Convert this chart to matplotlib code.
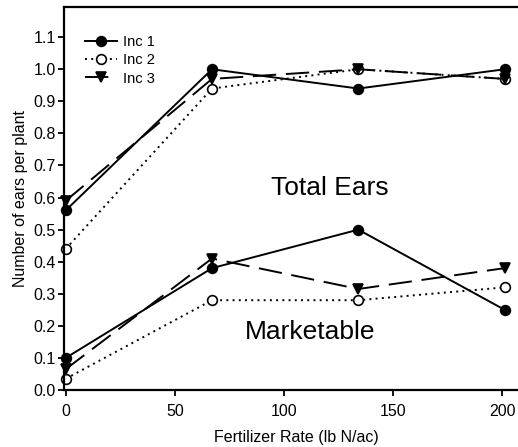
import numpy as np
import matplotlib
matplotlib.use("Agg")
import matplotlib.pyplot as plt

plt.rcParams["font.family"] = ["Liberation Sans", "DejaVu Sans"]

# Fertilizer N rates (lb N/ac)
rates = [0, 67, 134, 201]

# Total ears per plant
total_inc1 = [0.56, 1.00, 0.94, 1.00]
total_inc2 = [0.44, 0.94, 1.00, 0.97]
total_inc3 = [0.59, 0.97, 1.00, 0.97]

# Marketable ears per plant
mkt_inc1 = [0.10, 0.38, 0.50, 0.25]
mkt_inc2 = [0.035, 0.28, 0.28, 0.32]
mkt_inc3 = [0.065, 0.41, 0.315, 0.38]

x_ticks = [0, 50, 100, 150, 200]
y_ticks = [round(0.1 * i, 1) for i in range(12)]

fig = plt.figure(figsize=(5.18, 4.47), dpi=100)
ax = fig.add_axes([0.1226, 0.1275, 0.898, 0.856])

styles = {
    "Inc 1": dict(color="black", linestyle="-", marker="o", mfc="black"),
    "Inc 2": dict(color="black", linestyle=(0, (1, 2.2)), marker="o", mfc="white"),
    "Inc 3": dict(color="black", linestyle=(0, (12, 5)), marker="v", mfc="black"),
}
common = dict(linewidth=1.4, markersize=7, mec="black", mew=1.2, clip_on=False)

for label, vals in [("Inc 1", total_inc1), ("Inc 2", total_inc2), ("Inc 3", total_inc3)]:
    ax.plot(rates, vals, label=label, **styles[label], **common)
for label, vals in [("Inc 1", mkt_inc1), ("Inc 2", mkt_inc2), ("Inc 3", mkt_inc3)]:
    ax.plot(rates, vals, **styles[label], **common)

ax.set_xlim(-1, 212)
ax.set_ylim(0, 1.193)
ax.set_xticks(x_ticks)
ax.set_yticks(y_ticks)
ax.set_yticklabels([f"{v:.1f}" for v in y_ticks])
ax.tick_params(direction="out", length=4, width=1.3, labelsize=11.5)
ax.tick_params(axis="y", pad=1.5)
ax.tick_params(axis="x", pad=6)

for side in ["left", "bottom", "top"]:
    ax.spines[side].set_linewidth(1.6)
ax.spines["right"].set_visible(False)

ax.set_xlabel("Fertilizer Rate (lb N/ac)", fontsize=11.5, labelpad=8)
ax.set_ylabel("Number of ears per plant", fontsize=11.5, labelpad=4)

ax.text(121, 0.63, "Total Ears", fontsize=19, ha="center", va="center")
ax.text(112, 0.18, "Marketable", fontsize=19, ha="center", va="center")

ax.legend(loc="upper left", bbox_to_anchor=(0.025, 0.955), frameon=False,
          fontsize=10.5, handlelength=2.2, handletextpad=0.4, labelspacing=0.3,
          borderaxespad=0.3)

fig.savefig("out.png", dpi=100)
